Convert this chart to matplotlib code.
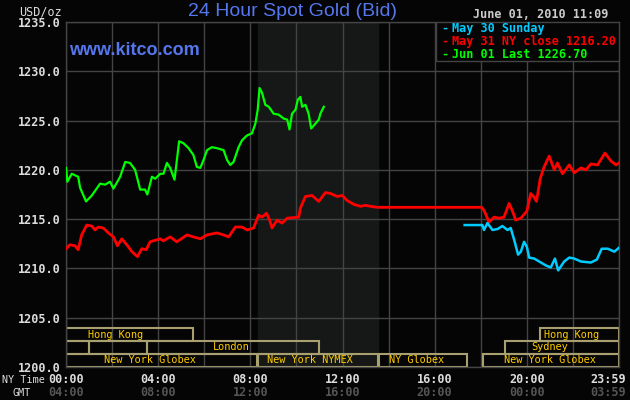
import matplotlib
matplotlib.use('Agg')
import matplotlib.pyplot as plt
from matplotlib.patches import Rectangle

# hours (NY time) and bid prices
jun01_hours = [0.0, 0.06, 0.25, 0.53, 0.61, 0.87, 1.12, 1.48, 1.70, 1.91, 2.06, 2.35, 2.57, 2.78,
               3.0, 3.22, 3.43, 3.53, 3.73, 3.87, 4.09, 4.23, 4.38, 4.52, 4.71, 4.91, 5.10, 5.32,
               5.53, 5.68, 5.83, 5.97, 6.12, 6.33, 6.55, 6.84, 6.99, 7.13, 7.27, 7.49, 7.64, 7.86,
               8.07, 8.22, 8.32, 8.40, 8.51, 8.65, 8.80, 9.01, 9.23, 9.45, 9.60, 9.70, 9.81, 9.96,
               10.06, 10.17, 10.25, 10.39, 10.53, 10.64, 10.83, 10.97, 11.04, 11.19]
jun01_price = [1220.2, 1218.8, 1219.6, 1219.3, 1218.2, 1216.8, 1217.4, 1218.6, 1218.5, 1218.8,
               1218.1, 1219.3, 1220.8, 1220.7, 1220.0, 1218.0, 1218.0, 1217.5, 1219.3, 1219.1,
               1219.6, 1219.6, 1220.7, 1220.2, 1219.0, 1222.9, 1222.7, 1222.2, 1221.5, 1220.3,
               1220.2, 1221.0, 1222.0, 1222.3, 1222.2, 1222.0, 1221.0, 1220.5, 1220.8, 1222.3,
               1223.0, 1223.5, 1223.7, 1224.7, 1226.1, 1228.3, 1227.8, 1226.6, 1226.4, 1225.7,
               1225.6, 1225.2, 1225.1, 1224.1, 1225.7, 1226.1, 1227.1, 1227.4, 1226.4, 1226.6,
               1225.7, 1224.2, 1224.7, 1225.1, 1225.7, 1226.4]

may31_hours = [0.0, 0.17, 0.39, 0.53, 0.68, 0.90, 1.12, 1.26, 1.40, 1.62, 1.84, 2.06, 2.23, 2.42,
               2.64, 2.86, 3.10, 3.29, 3.48, 3.65, 3.94, 4.09, 4.23, 4.52, 4.81, 5.25, 5.53, 5.83,
               6.12, 6.55, 6.84, 7.06, 7.35, 7.64, 7.86, 8.14, 8.36, 8.51, 8.70, 8.84, 8.94, 9.16,
               9.38, 9.60, 10.10, 10.17, 10.39, 10.68, 10.97, 11.26, 11.48, 11.77, 11.99, 12.20,
               12.49, 12.78, 13.0, 13.22, 13.5, 18.04, 18.14, 18.36, 18.58, 18.80, 19.01, 19.23,
               19.38, 19.52, 19.74, 20.0, 20.17, 20.29, 20.42, 20.58, 20.75, 20.97, 21.19, 21.33,
               21.55, 21.84, 22.06, 22.35, 22.57, 22.78, 23.07, 23.39, 23.65, 23.87, 24.0]
may31_price = [1212.0, 1212.4, 1212.3, 1211.9, 1213.4, 1214.4, 1214.3, 1213.9, 1214.2, 1214.1,
               1213.6, 1213.2, 1212.3, 1213.0, 1212.4, 1211.7, 1211.2, 1212.0, 1211.9, 1212.7,
               1212.9, 1213.0, 1212.8, 1213.2, 1212.7, 1213.4, 1213.2, 1213.0, 1213.4, 1213.6,
               1213.4, 1213.2, 1214.2, 1214.2, 1213.9, 1214.1, 1215.4, 1215.2, 1215.6, 1214.9,
               1214.1, 1214.9, 1214.6, 1215.1, 1215.2, 1216.1, 1217.3, 1217.4, 1216.8, 1217.7,
               1217.6, 1217.3, 1217.4, 1216.9, 1216.5, 1216.3, 1216.4, 1216.3, 1216.2, 1216.2,
               1215.9, 1214.7, 1215.2, 1215.1, 1215.2, 1216.6, 1215.8, 1214.9, 1215.1, 1215.8,
               1217.6, 1217.3, 1216.8, 1219.1, 1220.3, 1221.4, 1220.0, 1220.7, 1219.6, 1220.5,
               1219.7, 1220.2, 1220.0, 1220.6, 1220.5, 1221.7, 1220.9, 1220.5, 1220.7]

may30_hours = [17.30, 18.07, 18.14, 18.29, 18.51, 18.73, 18.94, 19.16, 19.30, 19.45, 19.62, 19.74,
               19.88, 20.0, 20.10, 20.32, 20.61, 20.83, 21.04, 21.22, 21.36, 21.62, 21.84, 22.06,
               22.35, 22.78, 23.04, 23.25, 23.51, 23.80, 24.0]
may30_price = [1214.4, 1214.4, 1213.9, 1214.6, 1213.9, 1214.0, 1214.3, 1213.9, 1214.1, 1212.9,
               1211.4, 1211.7, 1212.7, 1212.2, 1211.1, 1211.0, 1210.6, 1210.3, 1210.1, 1211.0,
               1209.8, 1210.7, 1211.1, 1211.0, 1210.7, 1210.6, 1210.9, 1212.0, 1212.0, 1211.7,
               1212.1]

# market sessions: (row, start hour, end hour, label, label hour)
sessions = [
    (2, 0.0, 5.53, 'Hong Kong', 2.13),
    (2, 20.57, 24.0, 'Hong Kong', 21.96),
    (1, 0.0, 1.01, '', 0),
    (1, 1.01, 3.53, '', 0),
    (1, 3.53, 11.0, 'London', 7.17),
    (1, 19.06, 24.0, 'Sydney', 21.0),
    (0, 0.0, 8.3, 'New York Globex', 3.65),
    (0, 8.35, 13.55, 'New York NYMEX', 10.6),
    (0, 13.57, 17.42, 'NY Globex', 15.2),
    (0, 18.1, 24.0, 'New York Globex', 21.0),
]

tick_hours = [0, 4, 8, 12, 16, 20, 24]
ny_labels = ['00:00', '04:00', '08:00', '12:00', '16:00', '20:00', '23:59']
gmt_labels = ['04:00', '08:00', '12:00', '16:00', '20:00', '00:00', '03:59']
y_ticks = [1200, 1205, 1210, 1215, 1220, 1225, 1230, 1235]

legend_lines = ['May 30 Sunday', 'May 31 NY close 1216.20', 'Jun 01 Last 1226.70']
legend_colors = ['#00CCFF', '#FF0000', '#00FF00']

bg = '#050505'
grid_c = '#444444'
mono = 'DejaVu Sans Mono'

fig = plt.figure(figsize=(6.3, 4.0), dpi=100, facecolor=bg)
ax = fig.add_axes([66 / 630, 1 - 367 / 400, 553 / 630, 345 / 400], facecolor=bg)
ax.set_xlim(0, 24)
ax.set_ylim(1200, 1235)

# NYMEX pit hours shading
ax.axvspan(8.33, 13.55, color='#151816', zorder=0)

ax.set_xticks(range(0, 25, 2))
ax.set_yticks(y_ticks)
ax.grid(True, color=grid_c, linewidth=1.0, zorder=1)
ax.set_axisbelow(True)
for s in ax.spines.values():
    s.set_color(grid_c)
    s.set_linewidth(1.0)
ax.tick_params(length=0)
ax.set_xticklabels([])
ax.set_yticklabels([f'{v:.1f}' for v in y_ticks], family=mono, fontsize=8.5,
                   fontweight='bold', color='#DDDDDD')
ax.tick_params(axis='y', pad=4)

xt = ax.get_xaxis_transform()
for h, ny, gmt in zip(tick_hours, ny_labels, gmt_labels):
    if h == 24:
        hx, ha = 24.3, 'right'
    else:
        hx, ha = h, 'center'
    ax.text(hx, -0.035, ny, transform=xt, ha=ha, va='center', family=mono,
            fontsize=8.5, fontweight='bold', color='#DDDDDD', clip_on=False)
    ax.text(hx, -0.075, gmt, transform=xt, ha=ha, va='center', family=mono,
            fontsize=8.5, fontweight='bold', color='#555555', clip_on=False)
fig.text(45 / 630, 1 - 380 / 400, 'NY Time', ha='right', va='center', family=mono,
         fontsize=7.3, color='#DDDDDD')
fig.text(22 / 630, 1 - 393 / 400, 'GMT', ha='center', va='center', family=mono,
         fontsize=7.3, color='#DDDDDD')
fig.text(62 / 630, 1 - 12 / 400, 'USD/oz', ha='right', va='center', family=mono,
         fontsize=8.5, color='#DDDDDD')

# price lines
ax.plot(may31_hours, may31_price, color='#FF0000', lw=2.0, zorder=3)
ax.plot(may30_hours, may30_price, color='#00CCFF', lw=1.8, zorder=3)
ax.plot(jun01_hours, jun01_price, color='#00FF00', lw=1.6, zorder=4)

# session bars
row_edges = [1200.05, 1201.35, 1202.64, 1203.93]
for row, x0, x1, label, lx in sessions:
    y0 = row_edges[row]
    ax.add_patch(Rectangle((x0, y0), x1 - x0, row_edges[row + 1] - y0, facecolor='none',
                           edgecolor='#A8A070', lw=1.5, zorder=2))
    if label:
        ax.text(lx, (y0 + row_edges[row + 1]) / 2, label, ha='center', va='center',
                family=mono, fontsize=7.4, color='#FFCC00', zorder=5)

# legend box in top right corner
ax.add_patch(Rectangle((16.07, 1231.04), 24 - 16.07, 1235 - 1231.04, facecolor=bg,
                       edgecolor=grid_c, lw=1.0, zorder=5))
for i, (txt, c) in enumerate(zip(legend_lines, legend_colors)):
    ax.text(16.3, 1234.35 - i * 1.3, '-', color=c, family=mono, fontsize=8.5,
            fontweight='bold', va='center', zorder=6)
    ax.text(16.75, 1234.35 - i * 1.3, txt, color=c, family=mono, fontsize=8.5,
            fontweight='bold', va='center', zorder=6)

fig.text(292 / 630, 1 - 12 / 400, '24 Hour Spot Gold (Bid)', ha='center', va='center',
         family='Liberation Sans', fontsize=14, color='#5577EE')
fig.text(608 / 630, 1 - 14 / 400, 'June 01, 2010 11:09', ha='right', va='center',
         family=mono, fontsize=8.5, fontweight='bold', color='#CCCCCC')
ax.text(0.005, 1232.1, 'www.kitco.com', ha='left', va='center', transform=ax.get_yaxis_transform(),
        family='Liberation Sans', fontsize=13, fontweight='bold', color='#5577EE', zorder=6)

fig.savefig('out.png', dpi=100, facecolor=bg)
